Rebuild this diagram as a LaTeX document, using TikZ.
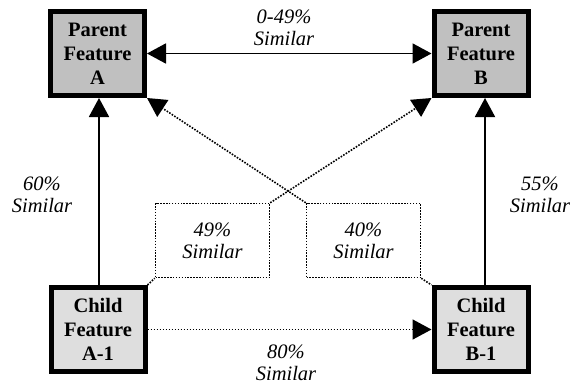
\documentclass[tikz,border=0pt]{standalone}
\usepackage{fontspec}
\setmainfont{Liberation Serif}
\usetikzlibrary{arrows.meta}
\definecolor{parentgray}{HTML}{C0C0C0}
\definecolor{childgray}{HTML}{DEDEDE}
\begin{document}
\begin{tikzpicture}[x=1pt,y=-1pt,
  feature/.style={draw=black,line width=5pt,minimum width=94pt,minimum height=84pt,
    inner sep=0pt,align=center,font=\fontsize{20.5}{24}\selectfont\bfseries},
  parentbox/.style={feature,fill=parentgray},
  childbox/.style={feature,fill=childgray},
  simlabel/.style={align=center,inner sep=0pt,font=\fontsize{20.5}{22}\selectfont\itshape},
  simbox/.style={simlabel,draw,line width=1.5pt,dash pattern=on 1.5pt off 1.4pt,
    minimum width=114pt,minimum height=74pt},
  solidlink/.style={line width=1.9pt},
  dotlink/.style={line width=1.6pt,dash pattern=on 1.6pt off 1.4pt},
  bigtip/.style={arrows={-Triangle[length=19pt,width=20pt]}},
  bothtips/.style={arrows={Triangle[length=19pt,width=20pt]-Triangle[length=19pt,width=20pt]}}
]
\useasboundingbox (0,0) rectangle (573,389);

% feature boxes
\node[parentbox] (pa) at (97.5,53.5) {Parent\\Feature\\A};
\node[parentbox] (pb) at (481,53.5) {Parent\\Feature\\B};
\node[childbox] (ca) at (98,329.5) {Child\\Feature\\A-1};
\node[childbox] (cb) at (481,329.5) {Child\\Feature\\B-1};

% cross-similarity boxes
\node[simbox] (s49) at (212.5,240.5) {49\%\\Similar};
\node[simbox] (s40) at (363.5,240.5) {40\%\\Similar};

% free-standing labels
\node[simlabel] (l049) at (284,27.5) {0-49\%\\Similar};
\node[simlabel] (l60) at (42,195) {60\%\\Similar};
\node[simlabel] (l55) at (540,195) {55\%\\Similar};
\node[simlabel] (l80) at (286,363) {80\%\\Similar};

% connectors
\draw[solidlink,bothtips] (pa) -- (pb);
\draw[solidlink,bigtip] (ca.north -| 99,0) -- (pa.south -| 99,0);
\draw[solidlink,bigtip] (cb.north -| 485,0) -- (pb.south -| 485,0);
\draw[dotlink,bigtip] (ca) -- (cb);
\draw[dotlink] (ca.north east) -- (s49.south west);
\draw[dotlink,bigtip] (s49.north east) -- (pb.south west);
\draw[dotlink,bigtip] (s40.north west) -- (pa.south east);
\draw[dotlink] (s40.south east) -- (cb.north west);
\end{tikzpicture}
\end{document}
